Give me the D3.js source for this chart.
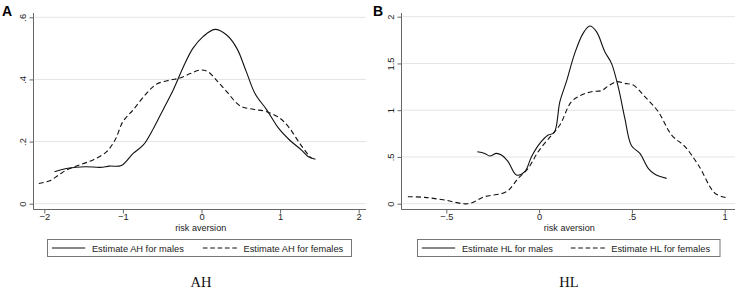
<!DOCTYPE html>
<html><head><meta charset="utf-8">
<script src="https://cdn.jsdelivr.net/npm/d3@7"></script>
<style>body{margin:0;background:#fff}svg{display:block}</style>
</head><body>
<script>
// ---- Data ----
const ahMaleX   = [-1.87,-1.70,-1.48,-1.29,-1.17,-1.02,-0.87,-0.74,-0.61,-0.49,-0.36,-0.23,-0.11,0.02,0.17,0.32,0.45,0.57,0.68,0.83,0.98,1.12,1.27,1.36,1.45];
const ahMaleY   = [0.103,0.114,0.119,0.117,0.121,0.123,0.162,0.189,0.243,0.302,0.366,0.441,0.500,0.538,0.561,0.543,0.500,0.425,0.355,0.302,0.243,0.205,0.173,0.151,0.143];
const ahFemaleX = [-2.07,-1.93,-1.82,-1.72,-1.55,-1.38,-1.21,-1.10,-1.00,-0.87,-0.70,-0.57,-0.40,-0.28,-0.15,-0.02,0.08,0.19,0.32,0.49,0.66,0.83,1.00,1.12,1.25,1.36,1.40];
const ahFemaleY = [0.065,0.074,0.092,0.108,0.125,0.141,0.167,0.205,0.264,0.302,0.355,0.385,0.398,0.404,0.418,0.430,0.425,0.398,0.361,0.315,0.304,0.296,0.275,0.243,0.194,0.157,0.146];

const hlMaleX   = [-0.333,-0.293,-0.266,-0.230,-0.203,-0.167,-0.122,-0.077,-0.041,0.004,0.049,0.081,0.112,0.147,0.192,0.237,0.273,0.309,0.354,0.390,0.426,0.462,0.498,0.543,0.588,0.624,0.687];
const hlMaleY   = [0.556,0.538,0.510,0.538,0.520,0.449,0.307,0.342,0.503,0.645,0.734,0.759,1.091,1.305,1.608,1.822,1.900,1.840,1.626,1.501,1.251,0.913,0.620,0.538,0.378,0.314,0.271];
const hlFemaleX = [-0.707,-0.617,-0.509,-0.383,-0.293,-0.176,-0.113,-0.059,-0.005,0.067,0.112,0.174,0.228,0.282,0.336,0.372,0.417,0.462,0.507,0.570,0.642,0.714,0.786,0.858,0.948,1.011];
const hlFemaleY = [0.075,0.068,0.039,0.000,0.075,0.128,0.271,0.378,0.556,0.734,0.841,1.091,1.162,1.198,1.209,1.258,1.305,1.287,1.269,1.144,0.984,0.734,0.610,0.414,0.111,0.064];

const ahXTicks = [-2,-1,0,1,2];
const ahXLabels = ["\u22122","\u22121","0","1","2"];
const ahYTicks = [0,0.2,0.4,0.6];
const ahYLabels = ["0",".2",".4",".6"];
const hlXTicks = [-0.5,0,0.5,1];
const hlXLabels = ["\u2212.5","0",".5","1"];
const hlYTicks = [0,0.5,1,1.5,2];
const hlYLabels = ["0",".5","1","1.5","2"];

const ahLegend = ["Estimate AH for males","Estimate AH for females"];
const hlLegend = ["Estimate HL for males","Estimate HL for females"];

// ---- Drawing ----
const svg = d3.select("body").append("svg").attr("width",737).attr("height",296);
const FONT = "Liberation Sans, Arial, Helvetica, sans-serif";
const FS = 9.3;

function panel(o){
  const g = svg.append("g");
  const x = d3.scaleLinear().domain(o.xDomain).range(o.xRange);
  const y = d3.scaleLinear().domain(o.yDomain).range(o.yRange);
  // gridlines
  g.selectAll(".grid").data(o.yTicks).enter().append("line")
    .attr("x1",o.axisX+1).attr("x2",o.gridRight)
    .attr("y1",d=>y(d)).attr("y2",d=>y(d))
    .attr("stroke","#e4e4e4").attr("stroke-width",1);
  // y axis
  const ya = g.append("g").attr("transform",`translate(${o.axisX},0)`)
    .call(d3.axisLeft(y).tickValues(o.yTicks).tickSize(4).tickFormat((d,i)=>o.yLabels[i]));
  ya.select(".domain").attr("d",`M0,${o.yTop}V${o.axisY}`).attr("stroke","#666");
  ya.selectAll(".tick line").attr("stroke","#666");
  ya.selectAll(".tick text").attr("font-family",FONT).attr("font-size",FS).attr("fill","#222")
    .attr("text-anchor","middle").attr("x",null)
    .attr("transform","translate(-11,0) rotate(-90)").attr("dy","0.35em");
  // x axis
  const xa = g.append("g").attr("transform",`translate(0,${o.axisY})`)
    .call(d3.axisBottom(x).tickValues(o.xTicks).tickSize(4).tickFormat((d,i)=>o.xLabels[i]));
  xa.select(".domain").attr("d",`M${o.axisX},0H${o.gridRight}`).attr("stroke","#666");
  xa.selectAll(".tick line").attr("stroke","#666");
  xa.selectAll(".tick text").attr("font-family",FONT).attr("font-size",FS).attr("fill","#222").attr("y",3.5);
  // axis title
  g.append("text").attr("x",(o.axisX+o.gridRight)/2+1).attr("y",230.5)
    .attr("text-anchor","middle").attr("font-family",FONT).attr("font-size",9.1).attr("fill","#222")
    .text("risk aversion");
  // lines
  const line = d3.line().x(d=>x(d[0])).y(d=>y(d[1])).curve(d3.curveCatmullRom);
  g.append("path").datum(o.maleX.map((v,i)=>[v,o.maleY[i]])).attr("d",line)
    .attr("fill","none").attr("stroke","#111").attr("stroke-width",1.1);
  g.append("path").datum(o.femX.map((v,i)=>[v,o.femY[i]])).attr("d",line)
    .attr("fill","none").attr("stroke","#111").attr("stroke-width",1.1).attr("stroke-dasharray","5,3");
  // panel letter
  g.append("text").attr("x",o.letterX).attr("y",15.5).attr("font-family",FONT)
    .attr("font-weight","bold").attr("font-size",14).attr("fill","#000").text(o.letter);
  // legend
  const L = o.legend;
  g.append("rect").attr("x",L.x).attr("y",239.5).attr("width",L.w).attr("height",17)
    .attr("fill","#fff").attr("stroke","#777").attr("stroke-width",1);
  g.append("line").attr("x1",L.x+4.4).attr("x2",L.x+37.7).attr("y1",248).attr("y2",248)
    .attr("stroke","#111").attr("stroke-width",1);
  g.append("text").attr("x",L.x+44.4).attr("y",251.5).attr("font-family",FONT).attr("font-size",FS)
    .attr("fill","#222").text(o.legendText[0]);
  g.append("line").attr("x1",L.x+L.d).attr("x2",L.x+L.d+34).attr("y1",248).attr("y2",248)
    .attr("stroke","#111").attr("stroke-width",1).attr("stroke-dasharray","4.6,2.75");
  g.append("text").attr("x",L.x+L.t2).attr("y",251.5).attr("font-family",FONT).attr("font-size",FS)
    .attr("fill","#222").text(o.legendText[1]);
  // caption
  g.append("text").attr("x",o.capX).attr("y",287).attr("text-anchor","middle")
    .attr("font-family","Liberation Serif, Times New Roman, serif").attr("font-size",14.5).attr("fill","#111")
    .text(o.caption);
}

panel({
  xDomain:[-2,2], xRange:[44.3,358.7], yDomain:[0,0.6], yRange:[203.7,17.3],
  axisX:33.5, axisY:209.5, gridRight:366, yTop:13,
  xTicks:ahXTicks, xLabels:ahXLabels, yTicks:ahYTicks, yLabels:ahYLabels,
  maleX:ahMaleX, maleY:ahMaleY, femX:ahFemaleX, femY:ahFemaleY,
  letter:"A", letterX:2, legend:{x:47.5,w:304,d:155.4,t2:196}, legendText:ahLegend,
  caption:"AH", capX:201
});
panel({
  xDomain:[-0.5,1], xRange:[446.3,724.7], yDomain:[0,2], yRange:[203.7,16.7],
  axisX:401.5, axisY:209.5, gridRight:735, yTop:13,
  xTicks:hlXTicks, xLabels:hlXLabels, yTicks:hlYTicks, yLabels:hlYLabels,
  maleX:hlMaleX, maleY:hlMaleY, femX:hlFemaleX, femY:hlFemaleY,
  letter:"B", letterX:373, legend:{x:417.5,w:302.5,d:153.4,t2:193.7}, legendText:hlLegend,
  caption:"HL", capX:569
});
</script>
</body></html>
